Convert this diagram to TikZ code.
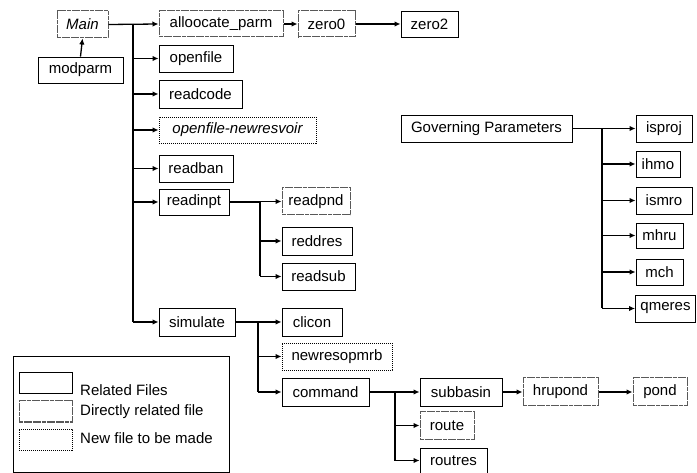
\documentclass[tikz,border=0pt]{standalone}
\usepackage{fontspec}
\setmainfont{Liberation Sans}
\usetikzlibrary{arrows.meta}
\begin{document}
\begin{tikzpicture}[x=1pt,y=-1pt,
  every node/.style={font=\fontsize{15}{17}\selectfont, inner sep=0pt},
  rel/.style={draw=black, line width=0.9pt, minimum height=27pt},
  dir/.style={draw=black!65, line width=1pt, dash pattern=on 4pt off 0.6pt, minimum height=27pt},
  newf/.style={draw=black, line width=0.9pt, dash pattern=on 1.2pt off 0.8pt, minimum height=27pt},
  wire/.style={line width=1.3pt},
  arr/.style={line width=1.3pt, -{Latex[length=6pt,width=5.5pt]}},
  legtxt/.style={anchor=west}]
\useasboundingbox (0,0) rectangle (697,473);
% main tree
\node[dir, minimum width=51pt] (main) at (82.5,24.5) {\itshape Main};
\node[rel, minimum width=85pt, minimum height=26pt] (modparm) at (80.5,70) {modparm};
\node[dir, minimum width=124pt, minimum height=26pt] (allo) at (221,24) {alloocate\_parm};
\node[dir, minimum width=57pt, minimum height=26pt] (zero0) at (326.5,24) {zero0};
\node[rel, minimum width=57pt, minimum height=26pt] (zero2) at (429.5,24) {zero2};
\node[rel, minimum width=74pt] (openfile) at (196,58.5) {openfile};
\node[rel, minimum width=83pt, minimum height=28pt] (readcode) at (200.5,94) {readcode};
\node[newf, minimum width=157pt, minimum height=26pt] (ofnr) at (237.5,130) {\itshape openfile-newresvoir};
\node[rel, minimum width=74pt] (readban) at (196,168.5) {readban};
\node[rel, minimum width=70pt, minimum height=26pt] (readinpt) at (194,202) {readinpt};
\node[dir, minimum width=68pt] (readpnd) at (316,201.5) {readpnd};
\node[rel, minimum width=70pt, minimum height=28pt] (reddres) at (317,241) {reddres};
\node[rel, minimum width=73pt] (readsub) at (318.5,276.5) {readsub};
\node[rel, minimum width=76pt, minimum height=28pt] (simulate) at (197,322) {simulate};
\node[rel, minimum width=60pt, minimum height=28pt] (clicon) at (312,322) {clicon};
\node[newf, minimum width=110pt] (newres) at (337,356.5) {newresopmrb};
\node[rel, minimum width=87pt, minimum height=28pt] (command) at (325.5,392) {command};
\node[rel, minimum width=82pt, minimum height=28pt] (subbasin) at (461,392) {subbasin};
\node[dir, minimum width=75pt, minimum height=28pt] (hrupond) at (560.5,392) {hrupond};
\node[dir, minimum width=54pt, minimum height=28pt] (pond) at (660,392) {pond};
\node[dir, minimum width=54pt] (route) at (447,425.5) {route};
\node[rel, minimum width=67pt, minimum height=25pt] (routres) at (453.5,460.5) {routres};
% governing parameters
\node[rel, minimum width=171pt] (gov) at (486.5,128.5) {Governing Parameters};
\node[rel, minimum width=56pt] (isproj) at (664,128.5) {isproj};
\node[rel, minimum width=44pt, minimum height=26pt] (ihmo) at (658,164) {ihmo};
\node[rel, minimum width=56pt] (ismro) at (664,200.5) {ismro};
\node[rel, minimum width=47pt, minimum height=25pt] (mhru) at (659.5,235.5) {mhru};
\node[rel, minimum width=47pt, minimum height=26pt] (mch) at (659.5,272) {mch};
\node[rel, minimum width=60pt] (qmeres) at (665.5,308.5) {qmeres};
% trunk coordinates
\coordinate (tmain) at (133,24);
\coordinate (tinpt) at (260,202);
\coordinate (tsim) at (258,322);
\coordinate (tcmd) at (395,392);
\coordinate (tgov) at (602,128.5);
% connectors
\draw[arr] (modparm.north) -- (main.south);
\draw[arr] (main.east) -- (allo.west);
\draw[arr] (allo.east) -- (zero0.west);
\draw[arr] (zero0.east) -- (zero2.west);
\draw[wire] (tmain) -- (tmain |- simulate.west);
\foreach \n in {openfile,readcode,ofnr,readban,readinpt,simulate}
  \draw[arr] (tmain |- \n.west) -- (\n.west);
\draw[wire] (readinpt.east) -- (tinpt) -- (tinpt |- readsub.west);
\foreach \n in {readpnd,reddres,readsub}
  \draw[arr] (tinpt |- \n.west) -- (\n.west);
\draw[wire] (simulate.east) -- (tsim) -- (tsim |- command.west);
\foreach \n in {clicon,newres,command}
  \draw[arr] (tsim |- \n.west) -- (\n.west);
\draw[wire] (command.east) -- (tcmd) -- (tcmd |- routres.west);
\foreach \n in {subbasin,route,routres}
  \draw[arr] (tcmd |- \n.west) -- (\n.west);
\draw[arr] (subbasin.east) -- (hrupond.west);
\draw[arr] (hrupond.east) -- (pond.west);
\draw[wire] (gov.east) -- (tgov) -- (tgov |- qmeres.west);
\foreach \n in {isproj,ihmo,ismro,mhru,mch,qmeres}
  \draw[arr] (tgov |- \n.west) -- (\n.west);
% legend
\node[draw, line width=0.9pt, minimum width=216pt, minimum height=116pt] (legend) at (121,414) {};
\node[rel, minimum width=53pt, minimum height=21pt] (sw1) at (45.5,382.5) {};
\node[dir, minimum width=53pt, minimum height=21pt] (sw2) at (45.5,411.5) {};
\node[newf, minimum width=53pt, minimum height=21pt] (sw3) at (45.5,439.5) {};
\node[legtxt] (l1) at (80,390) {Related Files};
\node[legtxt] (l2) at (80,412) {Directly related file};
\node[legtxt] (l3) at (80,438) {New file to be made};
\end{tikzpicture}
\end{document}
